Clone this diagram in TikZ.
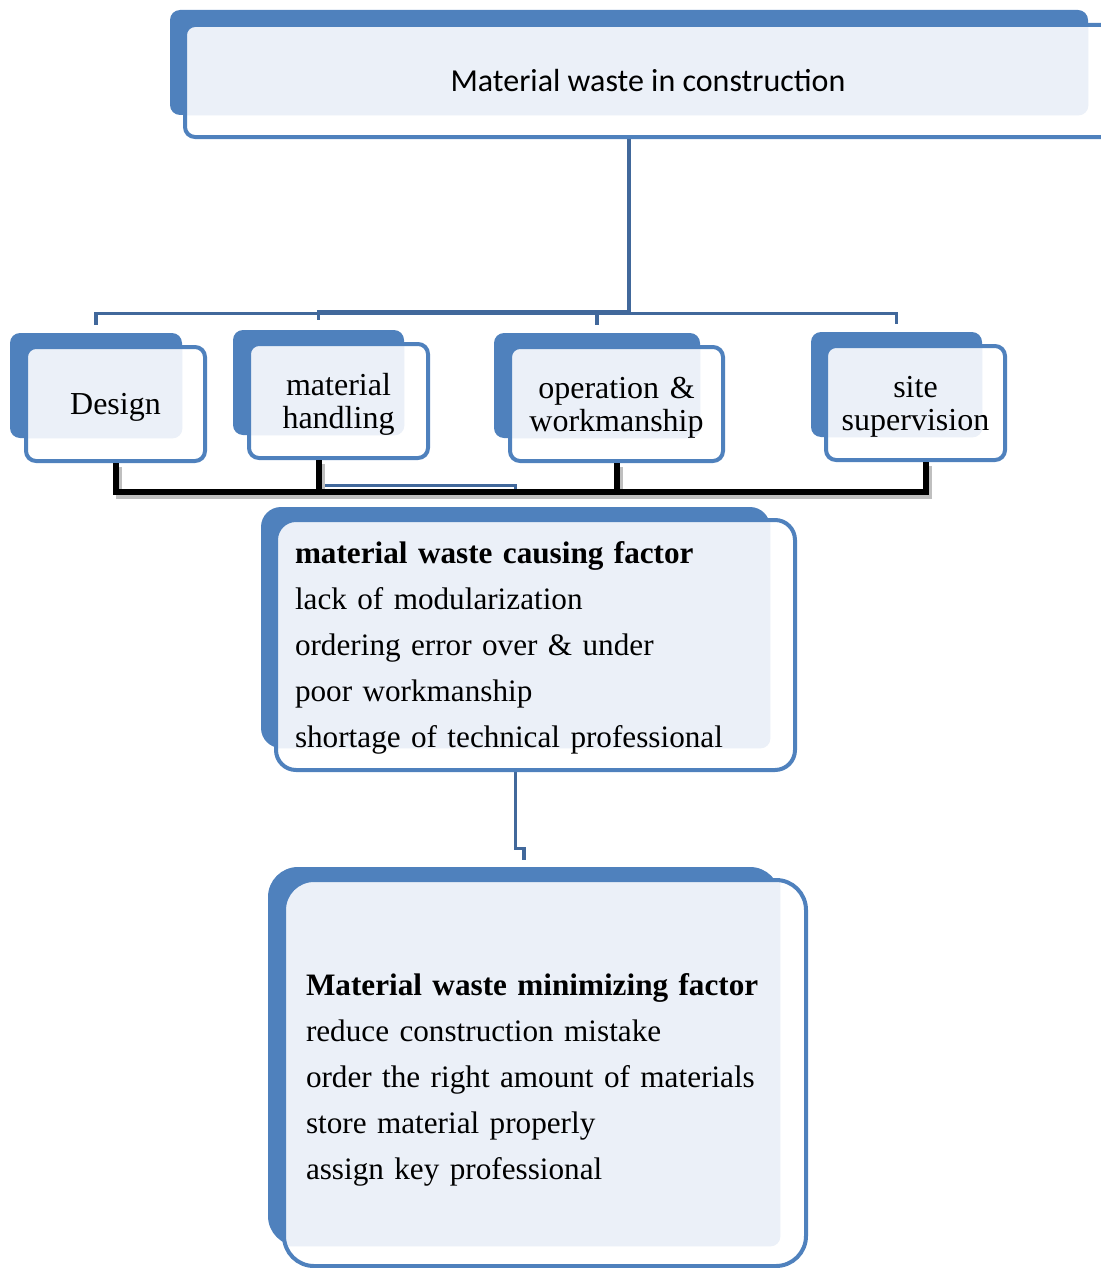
\documentclass[tikz,border=0pt]{standalone}
\usepackage{fontspec}
\setmainfont{Liberation Serif}
\newfontfamily\calibri{Carlito}
\usepackage{xcolor}
\usetikzlibrary{backgrounds}

\definecolor{boxblue}{HTML}{4F81BD}
\definecolor{paleblue}{HTML}{EBF0F8}
\definecolor{linkblue}{HTML}{41689B}

\begin{document}
\begin{tikzpicture}[x=0.5pt, y=-0.5pt,
    backbox/.style={fill=boxblue, inner sep=0pt, rounded corners=5pt},
    frontbox/.style={fill=white, draw=boxblue, line width=2pt, inner sep=0pt, rounded corners=5pt,
        path picture={\fill[paleblue, rounded corners=5pt] (#1.south west) rectangle (#1.north east);}},
    label/.style={font=\fontsize{16}{16.5}\selectfont, align=center},
    listing/.style={font=\fontsize{15.6}{23}\selectfont, align=left},
    link/.style={draw=linkblue, line width=1.6pt},
    bracket/.style={draw=black, line width=3pt,
        preaction={draw=black!25, line width=3pt, transform canvas={shift={(1.5pt,-2pt)}}}}]

    \useasboundingbox (0,0) rectangle (1101,1268);

    % top box
    \node[backbox, minimum width=459pt, minimum height=52.5pt] (topbk) at (629,62.5) {};
    \node[frontbox=topbk, minimum width=463pt, minimum height=56pt,
          font=\calibri\fontsize{16}{20}\selectfont] (top) at (648,81) {Material waste in construction};

    % the four sources
    \foreach \name/\bx/\by/\bw/\fx/\fy/\fw/\txt in {
        design/96/385.5/86/115.5/404/89.5/{Design},
        handling/318.5/382.5/85.5/338.5/401/89.5/{material\\handling},
        operation/597/385.5/103/616.5/404/106.5/{operation \&\\workmanship},
        site/896.5/384.5/85.5/915.5/403/89.5/{site\\supervision}} {
        \node[backbox, minimum width=\bw pt, minimum height=52.5pt] (\name bk) at (\bx,\by) {};
        \node[frontbox=\name bk, label, text width=\fw pt, minimum height=57pt] (\name) at (\fx,\fy) {\rule{0pt}{14pt}\txt};
    }

    % causing factors
    \node[backbox, rounded corners=10pt, minimum width=254.5pt, minimum height=120.5pt] (causebk) at (515.5,627.5) {};
    \node[frontbox=causebk, rounded corners=10pt, listing, text width=240.5pt, inner xsep=9.5pt,
          minimum height=125pt] (cause) at (535.5,645) {\rule{0pt}{13.6pt}\textbf{material waste causing factor}\\
        lack of modularization\\
        ordering error over \& under\\
        poor workmanship\\
        shortage of technical professional};

    % minimizing factors
    \node[backbox, rounded corners=15pt, minimum width=256pt, minimum height=189.5pt] (minimizebk) at (524,1056.5) {};
    \node[frontbox=minimizebk, rounded corners=15pt, listing, text width=239pt, inner xsep=11pt,
          minimum height=193pt] (minimize) at (545,1073) {\rule{0pt}{17.6pt}\textbf{Material waste minimizing factor}\\
        reduce construction mistake\\
        order the right amount of materials\\
        store material properly\\
        assign key professional};

    % connectors
    \begin{scope}[on background layer]
        \foreach \kid in {designbk, operationbk, sitebk}
            \draw[link] (topbk.south) -- ++(0,198) -| ([yshift=4pt]\kid.north);
        \draw[link] (topbk.south) -- ++(0,196) -| ([yshift=5pt]handlingbk.north);
        \draw[link, line width=1.4pt] (handlingbk.south) -- ++(0,50) -| ([yshift=4pt]causebk.north);
        \draw[link] (causebk.south) -- ++(0,100) -| ([yshift=3.5pt]minimizebk.north);
    \end{scope}

    \draw[bracket] (design.south) -- ++(0,29) -| ([xshift=5pt]site.south)
        (handling.south -| handlingbk.south) -- ++(0,32)
        (operation.south) -- ++(0,29);

\end{tikzpicture}
\end{document}
